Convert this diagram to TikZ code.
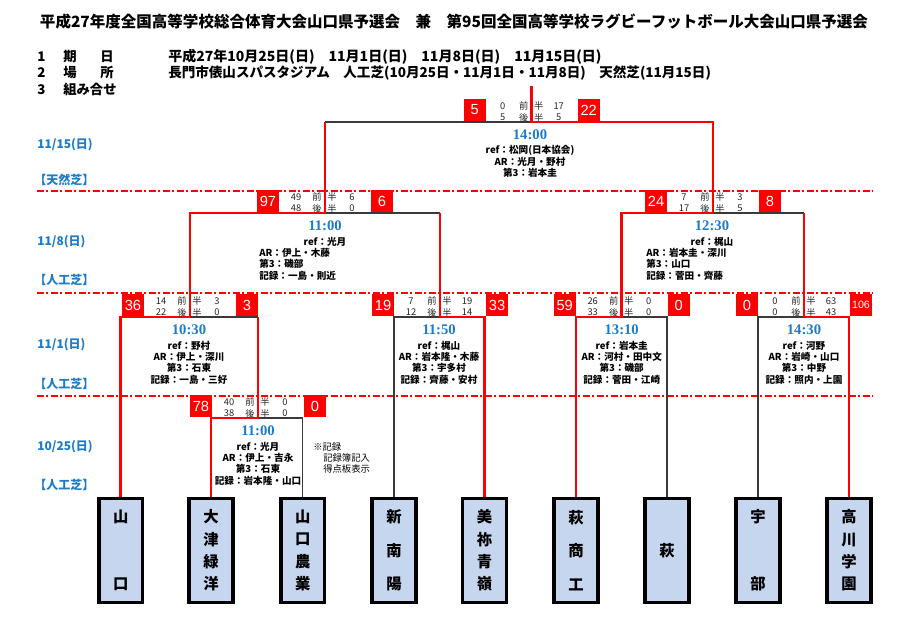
\documentclass[tikz,border=0pt]{standalone}
\usepackage{fontspec}
\usepackage{graphicx}
\newfontfamily\jp{Noto Sans CJK JP}
\newfontfamily\lsans{Liberation Sans}
\newfontfamily\lserif{Liberation Serif}
\definecolor{bred}{HTML}{FF0000}
\definecolor{dblue}{HTML}{1E7BC8}
\definecolor{tfill}{HTML}{C6D6EE}
\definecolor{lgrey}{HTML}{3A3A3A}
\tikzset{
  win/.style={draw=bred, line width=2.2pt},
  lose/.style={draw=lgrey, line width=0.9pt},
  sepline/.style={draw=bred, line width=0.9pt, dash pattern=on 5pt off 2pt on 1.5pt off 2pt},
  team/.style={draw=black, line width=2.5pt, fill=tfill, minimum width=32.8pt, minimum height=77.8pt, inner sep=0pt, font=\jp\bfseries\fontsize{11.5}{13}\selectfont},
  sbox/.style={fill=bred, text=white, minimum width=16.5pt, minimum height=16.5pt, inner sep=0pt, font=\lsans\fontsize{11}{11}\selectfont},
  sc/.style={font=\jp\fontsize{7}{7}\selectfont, inner sep=0pt, text=black!85},
  tm/.style={text=dblue, font=\lserif\bfseries\fontsize{11}{11}\selectfont, inner sep=0pt},
  info/.style={font=\jp\bfseries\fontsize{7.2}{8}\selectfont, inner sep=0pt},
  lbl/.style={text=dblue, font=\jp\bfseries\fontsize{9}{9}\selectfont, inner sep=0pt, anchor=west},
  note/.style={font=\jp\fontsize{7}{7}\selectfont, inner sep=0pt, anchor=west},
  rowt/.style={font=\jp\bfseries\fontsize{10}{10}\selectfont, inner sep=0pt},
  head/.style={font=\jp\bfseries, inner sep=0pt},
}
\newcommand\mscores[9]{%
  \node[sbox] (#1bl) at (#2-57,#3-12) {#8};
  \node[sbox] (#1br) at (#2+57,#3-12) {#9};
  \node[sc] (#1a1) at (#2-29,#3-16) {#4};
  \node[sc] (#1b1) at (#2-8,#3-16) {前};
  \node[sc] (#1c1) at (#2+7,#3-16) {半};
  \node[sc] (#1d1) at (#2+27,#3-16) {#5};
  \node[sc] (#1a2) at (#2-29,#3-4.5) {#6};
  \node[sc] (#1b2) at (#2-8,#3-4.5) {後};
  \node[sc] (#1c2) at (#2+7,#3-4.5) {半};
  \node[sc] (#1d2) at (#2+27,#3-4.5) {#7};
}
\newcommand\minfo[8]{%
  \node[tm] (#1tm) at (#2,#3+12.5) {#4};
  \node[info] (#1ia) at (#2,#3+28.5) {#5};
  \node[info] (#1ib) at (#2,#3+39.8) {#6};
  \node[info] (#1ic) at (#2,#3+51.1) {#7};
  \node[info] (#1id) at (#2,#3+62.4) {#8};
}
\newcommand\minfoL[9]{%
  \node[tm] (#1tm) at (#2,#3+12.5) {#4};
  \node[info] (#1ia) at (#2,#3+28.5) {#5};
  \node[info,anchor=west] (#1ib) at (#9,#3+39.8) {#6};
  \node[info,anchor=west] (#1ic) at (#9,#3+51.1) {#7};
  \node[info,anchor=west] (#1id) at (#9,#3+62.4) {#8};
}
\newcommand\vtxt[1]{\parbox[c][60pt][s]{20pt}{\centering #1}}
\newcommand\vone[1]{\parbox[c][60pt][c]{20pt}{\centering #1}}
\begin{document}
\begin{tikzpicture}[x=0.75pt,y=-0.75pt]
\useasboundingbox (0,0) rectangle (908,642);
\fill[white] (0,0) rectangle (908,642);

% header
\node[head] (title) at (454,22) {\resizebox{621pt}{!}{\fontsize{12}{12}\selectfont 平成27年度全国高等学校総合体育大会山口県予選会　兼　第95回全国高等学校ラグビーフットボール大会山口県予選会}};
\node[rowt,anchor=west] (n1a) at (37,57) {1};
\node[rowt] (n1b) at (70,57) {期};
\node[rowt] (n1c) at (107,57) {日};
\node[rowt,anchor=west] (n2a) at (37,73) {2};
\node[rowt] (n2b) at (70,73) {場};
\node[rowt] (n2c) at (107,73) {所};
\node[rowt,anchor=west] (n3a) at (37,89.5) {3};
\node[rowt,anchor=west] (n3b) at (63,89.5) {組み合せ};
\node[rowt,anchor=west] (v1) at (168,57) {\resizebox{325pt}{!}{平成27年10月25日(日)　11月1日(日)　11月8日(日)　11月15日(日)}};
\node[rowt,anchor=west] (v2) at (168,73) {\resizebox{407pt}{!}{長門市俵山スパスタジアム　人工芝(10月25日・11月1日・11月8日)　天然芝(11月15日)}};

% separators
\draw[sepline] (37,191) -- (873,191);
\draw[sepline] (37,293) -- (873,293);
\draw[sepline] (37,396) -- (873,396);

% date labels
\node[lbl] (d1) at (37,145) {11/15(日)};
\node[lbl] (d1b) at (34,180) {【天然芝】};
\node[lbl] (d2) at (37,242) {11/8(日)};
\node[lbl] (d2b) at (34,280) {【人工芝】};
\node[lbl] (d3) at (37,345) {11/1(日)};
\node[lbl] (d3b) at (34,384) {【人工芝】};
\node[lbl] (d4) at (37,447) {10/25(日)};
\node[lbl] (d4b) at (34,485) {【人工芝】};

% teams
\node[team] (t1) at (120.7,550.5) {\vtxt{山\par\vfill 口}};
\node[team] (t2) at (211,550.5) {\vtxt{大\par\vfill 津\par\vfill 緑\par\vfill 洋}};
\node[team] (t3) at (302.7,550.5) {\vtxt{山\par\vfill 口\par\vfill 農\par\vfill 業}};
\node[team] (t4) at (394,550.5) {\vtxt{新\par\vfill 南\par\vfill 陽}};
\node[team] (t5) at (484.5,550.5) {\vtxt{美\par\vfill 祢\par\vfill 青\par\vfill 嶺}};
\node[team] (t6) at (576,550.5) {\vtxt{萩\par\vfill 商\par\vfill 工}};
\node[team] (t7) at (667,550.5) {\vone{萩}};
\node[team] (t8) at (758,550.5) {\vtxt{宇\par\vfill 部}};
\node[team] (t9) at (849,550.5) {\vtxt{高\par\vfill 川\par\vfill 学\par\vfill 園}};

% junctions
\coordinate (r1C) at (258,418);
\coordinate (aC) at (190,317);
\coordinate (aR) at (258,317);
\coordinate (bC) at (440,317);
\coordinate (cC) at (621.7,317);
\coordinate (dC) at (804,317);
\coordinate (eL) at (190,213);
\coordinate (eC) at (325,213);
\coordinate (eR) at (440,213);
\coordinate (fL) at (621.7,213);
\coordinate (fC) at (713,213);
\coordinate (fR) at (804,213);
\coordinate (gL) at (325,122);
\coordinate (gC) at (531.7,122);
\coordinate (gR) at (713,122);
\coordinate (gT) at (531.7,86);

% losing lines
\draw[lose] (t3.north) |- (r1C);
\draw[lose] (aR) -- (aC);
\draw[lose] (t4.north) |- (bC);
\draw[lose] (t7.north) |- (cC);
\draw[lose] (t8.north) |- (dC);
\draw[lose] (eR) -- (eC);
\draw[lose] (fR) -- (fC);
\draw[lose] (gL) -- (gC);

% winning lines
\draw[win] (t2.north) |- (r1C) -- (aR);
\draw[win] (t1.north) |- (aC) -- (eL) -- (eC) -- (gL);
\draw[win] (t5.north) |- (bC) -- (eR);
\draw[win] (t6.north) |- (cC) -- (fL) -- (fC) -- (gR) -- (gC) -- (gT);
\draw[win] (t9.north) |- (dC) -- (fR);

% scores
\mscores{G}{531.7}{122}{0}{17}{5}{5}{5}{22}
\mscores{E}{325}{213}{49}{6}{48}{0}{97}{6}
\mscores{F}{713}{213}{7}{3}{17}{5}{24}{8}
\mscores{A}{190}{317}{14}{3}{22}{0}{36}{3}
\mscores{B}{440}{317}{7}{19}{12}{14}{19}{33}
\mscores{C}{621.7}{317}{26}{0}{33}{0}{59}{0}
\mscores{D}{804}{317}{0}{63}{0}{43}{0}{\fontsize{8}{8}\selectfont 106}
\mscores{R}{258}{418}{40}{0}{38}{0}{78}{0}

% match info
\node[tm] (Gtm) at (530,134.5) {14:00};
\node[info] (Gia) at (530,150.5) {ref：松岡(日本協会)};
\node[info] (Gib) at (530,161.8) {AR：光月・野村};
\node[info] (Gic) at (530,173.1) {第3：岩本圭};
\minfoL{E}{325}{213}{11:00}{ref：光月}{AR：伊上・木藤}{第3：磯部}{記録：一島・則近}{259}
\minfoL{F}{712}{213}{12:30}{ref：梶山}{AR：岩本圭・深川}{第3：山口}{記録：菅田・齊藤}{646}
\minfo{A}{189}{317}{10:30}{ref：野村}{AR：伊上・深川}{第3：石東}{記録：一島・三好}
\minfo{B}{439}{317}{11:50}{ref：梶山}{AR：岩本隆・木藤}{第3：宇多村}{記録：齊藤・安村}
\minfo{C}{621.7}{317}{13:10}{ref：岩本圭}{AR：河村・田中文}{第3：磯部}{記録：菅田・江崎}
\minfo{D}{804}{317}{14:30}{ref：河野}{AR：岩崎・山口}{第3：中野}{記録：照内・上園}
\minfo{R}{258}{418}{11:00}{ref：光月}{AR：伊上・吉永}{第3：石東}{記録：岩本隆・山口}

% note
\node[note] (nt1) at (313,447) {※記録};
\node[note] (nt2) at (323,458) {記録簿記入};
\node[note] (nt3) at (323,469) {得点板表示};
\end{tikzpicture}
\end{document}
